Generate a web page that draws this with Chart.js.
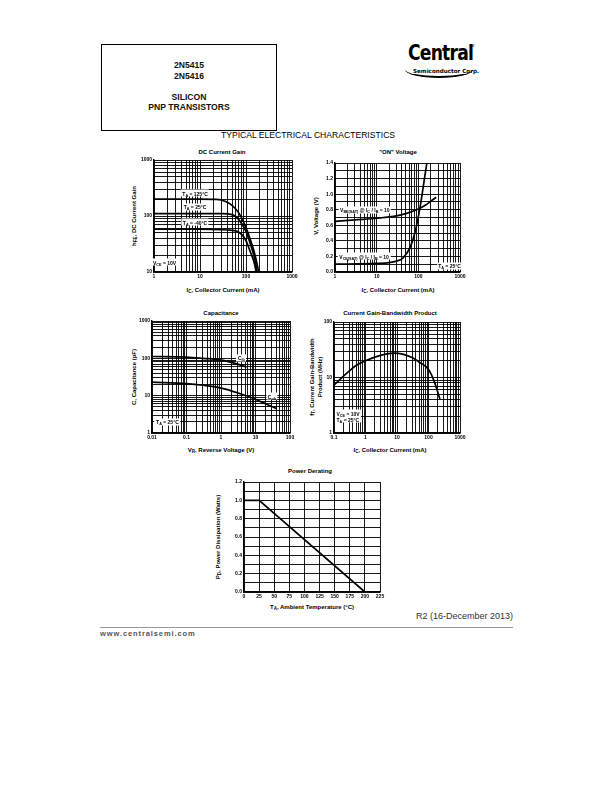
<!DOCTYPE html>
<html>
<head>
<meta charset="utf-8">
<script src="https://cdn.jsdelivr.net/npm/chart.js@4/dist/chart.umd.min.js"></script>
<style>
  body { margin: 0; width: 612px; height: 792px; position: relative; background: #fff;
         font-family: "Liberation Sans", Arial, sans-serif; color: #000; overflow: hidden; }
  .a { position: absolute; white-space: nowrap; }
  .c { transform: translateX(-50%); }
  .hd { font-size: 8.6px; font-weight: bold; text-align: center; line-height: 10.5px; color: #111; }
  .ttl { font-size: 6px; font-weight: bold; transform: translate(-50%, -50%); }
  .ax { font-size: 6px; font-weight: bold; transform: translate(-50%, -50%); }
  .ay { font-size: 6px; font-weight: bold; transform: translate(-50%, -50%) rotate(-90deg); text-align: center; line-height: 8px; }
  .lb { font-size: 5px; font-weight: bold; background: #fff; padding: 0.5px 1.5px; line-height: 6px;
        transform: translate(-50%, -50%); }
  sub { font-size: 0.75em; vertical-align: -0.3em; line-height: 0; }
</style>
</head>
<body>

<div class="a" style="left:101px;top:44px;width:174px;height:85px;border:1px solid #000;"></div>
<div class="a hd" style="left:101px;top:60px;width:176px;">2N5415<br>2N5416<br><br>SILICON<br>PNP TRANSISTORS</div>

<div class="a" style="left:408px;top:40px;font:bold 22px 'DejaVu Sans',sans-serif;letter-spacing:-1px;transform:scaleX(0.78);transform-origin:left top;">Central</div>
<div class="a" style="left:470px;top:44px;font-size:3px;">TM</div>
<div class="a" style="left:413px;top:68px;font:bold 5.6px 'DejaVu Sans',sans-serif;">Semiconductor Corp.</div>
<div class="a" style="left:405px;top:62px;width:68px;height:14px;border-bottom:2px solid #000;border-radius:0 0 40px 40px/0 0 10px 10px;"></div>

<div class="a c" style="left:308px;top:130px;font-size:8.6px;">TYPICAL ELECTRICAL CHARACTERISTICS</div>

<div class="a ttl" style="left:222px;top:152px;">DC Current Gain</div>
<div class="a ttl" style="left:398px;top:152px;">"ON" Voltage</div>
<div class="a ttl" style="left:221px;top:313px;">Capacitance</div>
<div class="a ttl" style="left:390px;top:313px;">Current Gain-Bandwidth Product</div>
<div class="a ttl" style="left:310px;top:471px;">Power Derating</div>

<div class="a ax" style="left:223px;top:290px;">I<sub>C</sub>, Collector Current (mA)</div>
<div class="a ax" style="left:398px;top:290px;">I<sub>C</sub>, Collector Current (mA)</div>
<div class="a ax" style="left:221px;top:450px;">V<sub>R</sub>, Reverse Voltage (V)</div>
<div class="a ax" style="left:390px;top:450px;">I<sub>C</sub>, Collector Current (mA)</div>
<div class="a ax" style="left:312px;top:607px;">T<sub>A</sub>, Ambient Temperature (°C)</div>

<div class="a ay" style="left:134px;top:216px;">h<sub>FE</sub>, DC Current Gain</div>
<div class="a ay" style="left:316px;top:216px;">V, Voltage (V)</div>
<div class="a ay" style="left:134px;top:377px;">C, Capacitance (pF)</div>
<div class="a ay" style="left:316px;top:377px;">f<sub>T</sub>, Current Gain-Bandwidth<br>Product (MHz)</div>
<div class="a ay" style="left:218px;top:537px;">P<sub>D</sub>, Power Dissipation (Watts)</div>

<div class="a" style="right:99px;top:611px;font-size:9px;color:#333;">R2 (16-December 2013)</div>
<div class="a" style="left:100px;top:627px;width:413px;border-top:1px solid #999;"></div>
<div class="a" style="left:100px;top:629px;font-size:7.5px;font-weight:bold;color:#555;letter-spacing:0.9px;">www.centralsemi.com</div>

<script>
// ---- DC Current Gain (hFE vs IC) ----
const gainIc125 = [1, 10, 23, 35, 49, 69, 97, 124, 155, 190];
const gainH125  = [200, 200, 198, 184, 157, 115, 66, 38, 21, 10];
const gainIc25  = [1, 10, 30, 41, 58, 74, 97, 124, 155, 174];
const gainH25   = [110, 110, 110, 109, 100, 81, 56, 32, 17, 10];
const gainIcM40 = [1, 10, 30, 45, 69, 97, 124, 155, 165];
const gainHM40  = [58, 58, 57, 56, 52, 38, 23, 13.5, 10];
const gainXLabels = [1, 10, 100, 1000];
const gainYLabels = [10, 100, 1000];

// ---- "ON" Voltage ----
const onIcBe = [1, 3, 10, 30, 50, 100, 150, 200, 270];
const onVBe  = [0.65, 0.67, 0.69, 0.72, 0.75, 0.81, 0.86, 0.91, 0.96];
const onIcCe = [1, 10, 20, 30, 43, 65, 85, 110, 130, 145, 160];
const onVCe  = [0.10, 0.11, 0.12, 0.14, 0.18, 0.33, 0.53, 0.83, 1.08, 1.25, 1.4];
const onXLabels = [1, 10, 100, 1000];
const onYLabels = [0, 0.2, 0.4, 0.6, 0.8, 1.0, 1.2, 1.4];

// ---- Capacitance ----
const capVrIb = [0.01, 0.1, 0.3, 1, 2, 3, 5.5];
const capCib  = [112, 108, 100, 90, 78, 70, 58];
const capVrOb = [0.01, 0.1, 0.3, 1, 3, 10, 20, 41];
const capCob  = [23, 21, 19, 16, 12, 8, 6, 4.5];
const capXLabels = [0.01, 0.1, 1, 10, 100];
const capYLabels = [1, 10, 100, 1000];

// ---- Current Gain-Bandwidth Product ----
const ftIc = [0.1, 0.3, 0.5, 1, 3, 8, 30, 50, 100, 150, 230];
const ftF  = [7.3, 13, 16.5, 20, 25, 27.5, 23, 19, 14, 8.7, 4.1];
const ftXLabels = [0.1, 1, 10, 100, 1000];
const ftYLabels = [1, 10, 100];

// ---- Power Derating ----
const pdTa = [0, 25, 200];
const pdP  = [1.0, 1.0, 0.0];
const pdXLabels = [0, 25, 50, 75, 100, 125, 150, 175, 200, 225];
const pdYLabels = [0, 0.2, 0.4, 0.6, 0.8, 1.0, 1.2];

const FONT = '"Liberation Sans", Arial, sans-serif';
const PAD_L = 24, PAD_T = 5, PAD_R = 10, PAD_B = 10;

// grid line positions for a log axis: 1..9 in every decade
function logGrid(min, max) {
  const out = [];
  for (let d = min; d < max * 0.999; d *= 10)
    for (let k = 1; k < 10; k++) out.push(+(d * k).toPrecision(6));
  out.push(max);
  return out;
}
function linGrid(min, max, step) {
  const out = [];
  for (let i = 0; min + i * step <= max + 1e-9; i++) out.push(+(min + i * step).toFixed(6));
  return out;
}
function pts(xs, ys) { return xs.map((x, i) => ({ x: x, y: ys[i] })); }

function axis(type, min, max, grid, labels, fmt) {
  return {
    type: type, min: min, max: max,
    afterBuildTicks: s => { s.ticks = grid.map(v => ({ value: v })); },
    ticks: {
      autoSkip: false, maxRotation: 0, minRotation: 0, padding: 2, color: '#000',
      font: { size: 5, weight: 'bold', family: FONT },
      callback: v => labels.some(l => Math.abs(l - v) <= 1e-6 * Math.max(1, Math.abs(l))) ? fmt(v) : ''
    },
    grid: { color: '#000', lineWidth: 0.9, drawTicks: false },
    border: { color: '#000', width: 1.4 }
  };
}

function makeChart(rect, xAxis, yAxis, series, notes) {
  const w = rect.r - rect.l + PAD_L + PAD_R, h = rect.b - rect.t + PAD_T + PAD_B;
  const cv = document.createElement('canvas');
  cv.width = w; cv.height = h;
  cv.style.cssText = 'position:absolute;left:' + (rect.l - PAD_L) + 'px;top:' + (rect.t - PAD_T) +
                     'px;width:' + w + 'px;height:' + h + 'px;';
  document.body.appendChild(cv);
  xAxis.afterFit = s => { s.height = PAD_B; };
  yAxis.afterFit = s => { s.width = PAD_L; };
  const chart = new Chart(cv, {
    type: 'line',
    data: {
      datasets: series.map(s => ({
        data: s.data, borderColor: '#000', borderWidth: 1.7, pointRadius: 0,
        fill: false, cubicInterpolationMode: s.straight ? 'default' : 'monotone', tension: 0
      }))
    },
    options: {
      responsive: false, animation: false, devicePixelRatio: 1, events: [],
      layout: { padding: { left: 0, top: PAD_T, right: PAD_R, bottom: 0 }, autoPadding: false },
      plugins: { legend: { display: false }, tooltip: { enabled: false }, title: { display: false } },
      scales: { x: xAxis, y: yAxis }
    }
  });
  // text notes placed through the chart's own scales
  (notes || []).forEach(n => {
    const d = document.createElement('div');
    d.className = 'a lb';
    d.innerHTML = n.html;
    const px = chart.scales.x.getPixelForValue(n.x), py = chart.scales.y.getPixelForValue(n.y);
    d.style.left = (rect.l - PAD_L + px) + 'px';
    d.style.top = (rect.t - PAD_T + py) + 'px';
    if (n.align) d.style.textAlign = n.align;
    document.body.appendChild(d);
  });
  return chart;
}

const fmtLog = v => String(v);
const fmt1 = v => v.toFixed(1);
const fmt0 = v => String(Math.round(v));

makeChart({ l: 154, t: 160, r: 292, b: 272 },
  axis('logarithmic', 1, 1000, logGrid(1, 1000), gainXLabels, fmtLog),
  axis('logarithmic', 10, 1000, logGrid(10, 1000), gainYLabels, fmtLog),
  [{ data: pts(gainIc125, gainH125) }, { data: pts(gainIc25, gainH25) }, { data: pts(gainIcM40, gainHM40) }],
  [{ x: 7.8, y: 255, html: 'T<sub>A</sub> = 125°C' },
   { x: 7.8, y: 145, html: 'T<sub>A</sub> = 25°C' },
   { x: 7.8, y: 77, html: 'T<sub>A</sub> = -40°C' },
   { x: 1.7, y: 15, html: 'V<sub>CE</sub> = 10V' }]);

makeChart({ l: 335, t: 163, r: 460, b: 272 },
  axis('logarithmic', 1, 1000, logGrid(1, 1000), onXLabels, fmtLog),
  axis('linear', 0, 1.4, linGrid(0, 1.4, 0.1), onYLabels, fmt1),
  [{ data: pts(onIcBe, onVBe) }, { data: pts(onIcCe, onVCe) }],
  [{ x: 5.2, y: 0.8, html: 'V<sub>BE(SAT)</sub> @ I<sub>C</sub> / I<sub>B</sub> = 10' },
   { x: 5.0, y: 0.2, html: 'V<sub>CE(SAT)</sub> @ I<sub>C</sub> / I<sub>B</sub> = 10' },
   { x: 560, y: 0.08, html: 'T<sub>A</sub> = 25°C' }]);

makeChart({ l: 152, t: 321, r: 290, b: 433 },
  axis('logarithmic', 0.01, 100, logGrid(0.01, 100), capXLabels, fmtLog),
  axis('logarithmic', 1, 1000, logGrid(1, 1000), capYLabels, fmtLog),
  [{ data: pts(capVrIb, capCib) }, { data: pts(capVrOb, capCob) }],
  [{ x: 3.9, y: 105, html: 'C<sub>ib</sub>' },
   { x: 30, y: 9.6, html: 'C<sub>ob</sub>' },
   { x: 0.028, y: 2, html: 'T<sub>A</sub> = 25°C' }]);

makeChart({ l: 334, t: 322, r: 460, b: 433 },
  axis('logarithmic', 0.1, 1000, logGrid(0.1, 1000), ftXLabels, fmtLog),
  axis('logarithmic', 1, 100, logGrid(1, 100), ftYLabels, fmtLog),
  [{ data: pts(ftIc, ftF) }],
  [{ x: 0.28, y: 2.0, align: 'left', html: 'V<sub>CE</sub> = 10V<br>T<sub>A</sub> = 25°C' }]);

makeChart({ l: 244, t: 482, r: 380, b: 592 },
  axis('linear', 0, 225, linGrid(0, 225, 25), pdXLabels, fmt0),
  axis('linear', 0, 1.2, linGrid(0, 1.2, 0.1), pdYLabels, fmt1),
  [{ data: pts(pdTa, pdP), straight: true }]);
</script>
</body>
</html>
